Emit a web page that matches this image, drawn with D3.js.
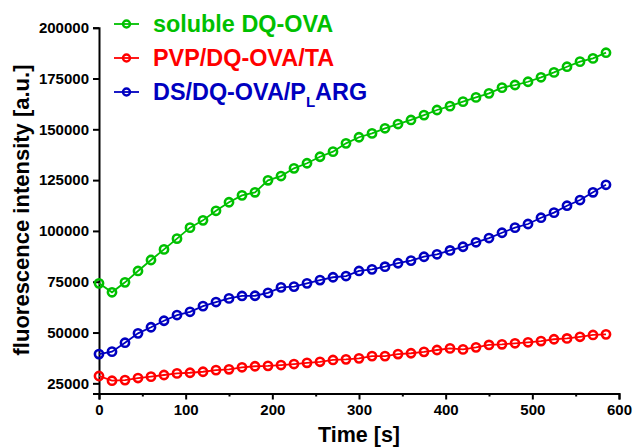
<!DOCTYPE html>
<html>
<head>
<meta charset="utf-8">
<script src="https://cdn.jsdelivr.net/npm/d3@7"></script>
<style>
  html, body { margin: 0; padding: 0; background: #fff; }
  svg { display: block; }
  text { font-family: Arial, "Liberation Sans", sans-serif; font-weight: bold; }
</style>
</head>
<body>
<svg id="chart" width="633" height="448"></svg>
<script>
// Time points (s), sampled every 15 s
const timePoints = [0, 15, 30, 45, 60, 75, 90, 105, 120, 135, 150, 165, 180, 195,
  210, 225, 240, 255, 270, 285, 300, 315, 330, 345, 360, 375, 390, 405,
  420, 435, 450, 465, 480, 495, 510, 525, 540, 555, 570, 585];

// Fluorescence intensity [a.u.] per series
const solubleValues = [74200, 69800, 74700, 80300, 85700, 90900, 96200, 101600, 105200, 109900,
  114100, 117500, 119000, 124900, 127000, 130800, 133300, 136500, 139000, 143100,
  146100, 148000, 150500, 152600, 154600, 157000, 159500, 161400, 163600, 165700,
  167700, 170500, 171800, 173400, 175600, 178000, 180800, 183300, 184900, 187700];

const pvpValues = [28600, 26300, 26600, 27600, 28300, 29100, 29900, 30200, 30700, 31500,
  31900, 32900, 33400, 33600, 34000, 34500, 35100, 35600, 36500, 36800,
  37300, 38400, 38400, 39400, 39800, 40500, 41400, 42200, 41700, 42700,
  43900, 44200, 44700, 45200, 45800, 46700, 47100, 47900, 48800, 49100];

const dsValues = [39400, 40600, 45000, 49600, 52600, 55800, 58600, 60200, 63000, 65000,
  66800, 68000, 68100, 69500, 72200, 72600, 74200, 75800, 77200, 77800,
  80300, 81100, 82400, 84100, 85400, 87300, 88500, 90400, 92200, 94400,
  96500, 99100, 101600, 103400, 106500, 109000, 112400, 115200, 119000, 122700];

const seriesNames = ["soluble DQ-OVA", "PVP/DQ-OVA/TA", "DS/DQ-OVA/P_LARG"];
const seriesColors = ["#00c000", "#ff0000", "#0000c0"];
const seriesValues = [solubleValues, pvpValues, dsValues];

const xTicks = [0, 100, 200, 300, 400, 500, 600];
const xMinorTicks = [50, 150, 250, 350, 450, 550];
const yTicks = [25000, 50000, 75000, 100000, 125000, 150000, 175000, 200000];

const svg = d3.select("#chart");

const x = d3.scaleLinear().domain([0, 600]).range([99, 619]);
const y = d3.scaleLinear().domain([20000, 200000]).range([393.5, 27.7]);

// Axes
svg.append("g")
  .attr("transform", `translate(0,${y(20000)})`)
  .call(d3.axisBottom(x).tickValues(xTicks).tickSize(6).tickPadding(5).tickFormat(d3.format("d")));
svg.append("g")
  .attr("transform", `translate(0,${y(20000)})`)
  .call(d3.axisBottom(x).tickValues(xMinorTicks).tickSize(3).tickFormat(""))
  .select(".domain").remove();

svg.append("g")
  .attr("transform", `translate(${x(0)},0)`)
  .call(d3.axisLeft(y).tickValues(yTicks).tickSize(6).tickPadding(4).tickFormat(d3.format("d")));

svg.selectAll(".domain").attr("stroke", "#000").attr("stroke-width", 2);
svg.selectAll(".tick line").attr("stroke", "#000").attr("stroke-width", 2);
svg.selectAll(".tick text").attr("fill", "#000").style("font-size", "15px")
  .style("font-family", "Arial, 'Liberation Sans', sans-serif").style("font-weight", "bold");

// Axis titles
svg.append("text")
  .attr("x", x(300)).attr("y", 442)
  .attr("text-anchor", "middle")
  .style("font-size", "21.5px")
  .text("Time [s]");

svg.append("text")
  .attr("transform", "translate(29,210) rotate(-90)")
  .attr("text-anchor", "middle")
  .style("font-size", "22px")
  .text("fluorescence intensity [a.u.]");

// Series: connecting lines with open circle markers
const line = d3.line().x((d, i) => x(timePoints[i])).y(d => y(d));

seriesValues.forEach((vals, s) => {
  const g = svg.append("g");
  g.append("path")
    .datum(vals)
    .attr("d", line)
    .attr("fill", "none")
    .attr("stroke", seriesColors[s])
    .attr("stroke-width", 1.8);
  g.selectAll("circle")
    .data(vals)
    .join("circle")
    .attr("cx", (d, i) => x(timePoints[i]))
    .attr("cy", d => y(d))
    .attr("r", 4.1)
    .attr("fill", "none")
    .attr("stroke", seriesColors[s])
    .attr("stroke-width", 2.6);
});

// Legend
const legendBaselines = [32, 66, 100];
seriesNames.forEach((name, s) => {
  const cy = legendBaselines[s] - 8;
  const g = svg.append("g");
  g.append("line")
    .attr("x1", 114).attr("x2", 139).attr("y1", cy).attr("y2", cy)
    .attr("stroke", seriesColors[s]).attr("stroke-width", 1.8);
  g.append("circle")
    .attr("cx", 126.5).attr("cy", cy).attr("r", 3.5)
    .attr("fill", "none").attr("stroke", seriesColors[s]).attr("stroke-width", 2.4);
  const t = g.append("text")
    .attr("x", 153).attr("y", legendBaselines[s])
    .attr("fill", seriesColors[s])
    .style("font-size", "23.4px");
  const parts = name.split("_");
  if (parts.length === 1) {
    t.text(name);
  } else {
    t.append("tspan").text(parts[0]);
    t.append("tspan").attr("dy", 7).style("font-size", "15px").text(parts[1].charAt(0));
    t.append("tspan").attr("dy", -7).text(parts[1].slice(1));
  }
});
</script>
</body>
</html>
